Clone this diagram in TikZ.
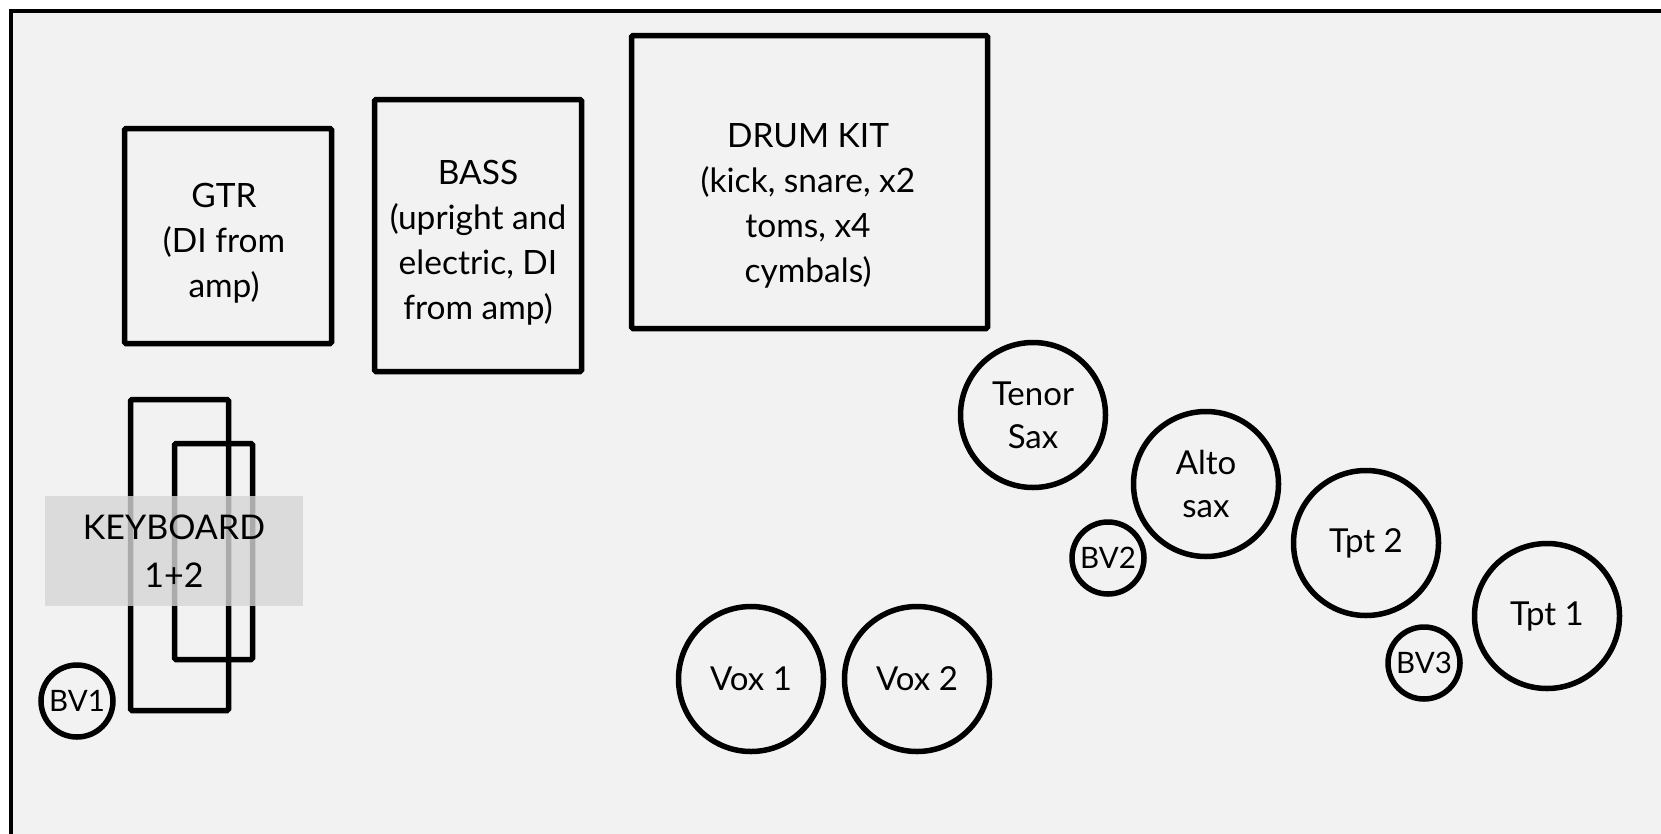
\documentclass[tikz,border=0pt]{standalone}
\usepackage{fontspec}
\setmainfont{Lato}
\definecolor{stagebg}{HTML}{F2F2F2}
\definecolor{labelbg}{HTML}{D6D6D6}
\begin{document}
\begin{tikzpicture}[x=1pt,y=-1pt,
  box/.style={draw=black, line width=5.5pt, rounded corners=1.5pt, inner sep=0pt},
  lbl/.style={align=center, font=\fontsize{33.5}{45}\selectfont, inner sep=0pt},
  inst/.style={circle, draw=black, line width=5.5pt, minimum size=145pt, inner sep=0pt, align=center, font=\fontsize{33}{43}\selectfont},
  bv/.style={circle, draw=black, line width=5.5pt, minimum size=72pt, inner sep=0pt, font=\fontsize{29.5}{34}\selectfont}]
\useasboundingbox (0,0) rectangle (1661,833);
\fill[white] (0,0) rectangle (1661,833);
\begin{scope}
\clip (0,0) rectangle (1661,833);
\draw[line width=4pt, fill=stagebg] (10.5,10.5) rectangle (1700,900);
\end{scope}
% boxes
\node[box, minimum width=207pt, minimum height=215pt] (gtr) at (228,236) {};
\node[lbl] (gtrtext) at (224,243) {GTR\\(DI from\\amp)};
\node[box, minimum width=207pt, minimum height=272pt] (bass) at (478,235.5) {};
\node[lbl] (basstext) at (478,243) {BASS\\(upright and\\electric, DI\\from amp)};
\node[box, minimum width=356pt, minimum height=293pt] (drum) at (809.5,182) {};
\node[lbl] (drumtext) at (808,206) {DRUM KIT\\(kick, snare, x2\\toms, x4\\cymbals)};
% keyboards
\node[box, minimum width=98pt, minimum height=311pt] (kb1) at (179.5,555) {};
\node[box, minimum width=78pt, minimum height=216pt] (kb2) at (213.5,551.5) {};
\node[fill=labelbg, fill opacity=0.8, text opacity=1, minimum width=258pt, minimum height=110pt, inner sep=0pt, align=center, font=\fontsize{34}{48}\selectfont] (kbtext) at (174,551) {KEYBOARD\\1+2};
% circles
\node[bv] (bv1) at (77,701) {BV1};
\node[inst] (vox1) at (751,679) {Vox 1};
\node[inst] (vox2) at (917,679) {Vox 2};
\node[inst] (tenor) at (1033,415) {Tenor\\Sax};
\node[inst] (alto) at (1206,484) {Alto\\sax};
\node[inst] (tpt2) at (1366,543) {Tpt 2};
\node[inst] (tpt1) at (1547,616) {Tpt 1};
\node[bv] (bv2) at (1108,558) {BV2};
\node[bv] (bv3) at (1424,663) {BV3};
\end{tikzpicture}
\end{document}
